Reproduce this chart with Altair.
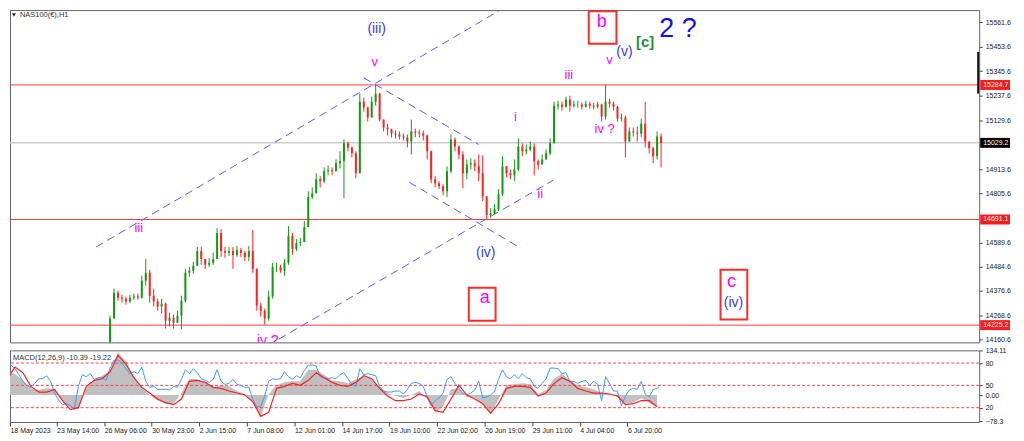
import altair as alt
import pandas as pd

FONT = "Liberation Sans"
GREEN = "#139a13"
RED = "#ff2222"
W = 974

# ---------------- candle data (H1 bars, index starting at FIRST_BAR) ----------------
FIRST_BAR = 26
FIRST_OPEN = 14135
CLOSES = [
    14254, 14368, 14346, 14342, 14329, 14346, 14351, 14346, 14421, 14456,
    14355, 14329, 14307, 14320, 14245, 14258, 14236, 14267, 14333, 14456,
    14465, 14487, 14552, 14517, 14491, 14500, 14517, 14632, 14552, 14544,
    14552, 14535, 14557, 14544, 14526, 14552, 14473, 14311, 14289, 14254,
    14351, 14482, 14482, 14465, 14500, 14618, 14561, 14588, 14592, 14658,
    14790, 14807, 14869, 14860, 14904, 14908, 14904, 14939, 14948, 15027,
    15009, 14983, 14895, 15211, 15185, 15141, 15211, 15246, 15132, 15097,
    15088, 15071, 15066, 15057, 15053, 15035, 15079, 15075, 15071, 15062,
    14992, 14869, 14851, 14838, 14816, 14904, 15044, 15013, 14978, 14895,
    14934, 14939, 14926, 14895, 14794, 14711, 14719, 14737, 14803, 14926,
    14895, 14886, 14912, 15013, 14992, 15000, 15013, 14948, 14934, 14956,
    14983, 15027, 15193, 15198, 15189, 15220, 15193, 15198, 15198, 15189,
    15202, 15193, 15189, 15198, 15145, 15211, 15202, 15189, 15136, 15141,
    15035, 15079, 15075, 15071, 15114, 15035, 15005, 14970, 15057, 15029,
]
HIGHS = [
    14267, 14386, 14377, 14359, 14351, 14359, 14364, 14364, 14443, 14517,
    14470, 14386, 14342, 14342, 14325, 14280, 14272, 14289, 14355, 14473,
    14482, 14504, 14570, 14570, 14517, 14522, 14544, 14653, 14649, 14570,
    14570, 14570, 14574, 14566, 14552, 14574, 14645, 14476, 14324, 14298,
    14377, 14500, 14500, 14491, 14517, 14662, 14632, 14605, 14610, 14684,
    14816, 14833, 14895, 14882, 14921, 14930, 14921, 14956, 14992, 15044,
    15035, 15013, 14992, 15246, 15229, 15189, 15233, 15285, 15250, 15132,
    15114, 15092, 15084, 15079, 15071, 15066, 15132, 15092, 15088, 15084,
    15066, 14996, 14882, 14860, 14847, 14926, 15066, 15053, 15018, 14992,
    14956, 14961, 14956, 14978, 14974, 14794, 14741, 14759, 14825, 14970,
    14926, 14912, 14956, 15049, 15027, 15022, 15035, 15027, 14956, 14978,
    15000, 15049, 15211, 15215, 15211, 15233, 15237, 15215, 15215, 15207,
    15215, 15211, 15207, 15211, 15202, 15285, 15224, 15211, 15193, 15158,
    15150, 15097, 15097, 15101, 15136, 15211, 15035, 15013, 15079, 15071,
]
LOWS = [
    14122, 14254, 14333, 14324, 14315, 14324, 14337, 14337, 14342, 14399,
    14324, 14307, 14289, 14276, 14210, 14219, 14210, 14236, 14206, 14324,
    14438, 14452, 14487, 14491, 14473, 14482, 14491, 14526, 14526, 14522,
    14530, 14473, 14526, 14526, 14508, 14508, 14456, 14289, 14263, 14228,
    14245, 14342, 14460, 14456, 14443, 14491, 14535, 14552, 14574, 14596,
    14658, 14781, 14807, 14833, 14851, 14886, 14886, 14912, 14917, 14785,
    14992, 14965, 14873, 14948, 15167, 15123, 15150, 15193, 15123, 15079,
    15062, 15053, 15049, 15044, 15040, 15009, 14978, 15053, 15053, 15040,
    14956, 14851, 14833, 14825, 14798, 14790, 14895, 14992, 14956, 14829,
    14869, 14912, 14904, 14860, 14772, 14691, 14697, 14715, 14728, 14794,
    14877, 14869, 14860, 14904, 14970, 14978, 14992, 14886, 14912, 14934,
    14961, 14974, 15035, 15176, 15172, 15185, 15167, 15185, 15185, 15176,
    15185, 15180, 15176, 15180, 15123, 15132, 15185, 15172, 15123, 15123,
    14965, 15053, 15057, 15035, 15053, 15009, 14983, 14939, 14956, 14921,
]

# ---------------- indicator data (bar index 0..165) ----------------
OSC_BLUE = [
    93, 90, 79, 61, 41, 29, 23, 35, 49, 49,
    58, 41, 6, -15, -29, -26, -32, -41, 26, 61,
    55, 64, 47, 52, 52, 44, 81, 105, 105, 96,
    79, 64, 70, 64, 84, 41, 23, 26, 17, 17,
    17, 15, 26, 23, 47, 76, 64, 79, 67, 49,
    44, 38, 47, 76, 41, 32, 35, 47, 32, 29,
    23, 23, -12, -35, -35, -3, 41, 49, 47, 49,
    70, 55, 47, 58, 52, 73, 90, 90, 87, 55,
    52, 49, 52, 49, 61, 67, 49, 32, 26, 79,
    61, 64, 61, 58, 26, 12, 9, 9, 12, 12,
    3, 17, 35, 38, 35, 26, -6, -32, -17, -9,
    6, 47, 55, 35, 20, 6, 0, 6, 15, 41,
    -9, -6, 0, 12, 47, 76, 55, 49, 61, 49,
    64, 52, 49, 26, 20, 35, 49, 81, 81, 79,
    64, 67, 41, 41, 35, 41, 44, 29, 41, 32,
    -17, 55, 35, 12, 12, -32, -3, 15, 20, 17,
    41, 3, -6, 17, 20, 32,
]
# every second bar (0, 2, ..., 164)
OSC_RED = [
    47, 84, 67, 26, 9, 9, 17, -17, -44, -38,
    26, 44, 49, 70, 119, 93, 52, 23, 6, -12,
    -23, -29, -12, 41, 44, 38, 23, 20, 12, 6,
    0, -20, -64, -52, 20, 26, 35, 29, 44, 67,
    52, 38, 29, 26, 38, 58, 49, 20, -3, -17,
    -17, -12, 3, -6, -47, -52, -12, 29, 0, -12,
    -26, -55, -26, 20, 26, 26, 23, -3, 6, 35,
    52, 41, 20, 12, 6, 6, 3, -3, -29, -26,
    -17, -17, -35,
]
OSC_HIST = [
    70, 64, 44, 20, 15, 20, 17, -20, -38, -41,
    23, 47, 58, 73, 128, 102, 55, 23, 0, -17,
    -26, -26, 6, 49, 47, 38, 23, 29, 26, 12,
    3, -17, -64, 3, 29, 38, 41, 41, 76, 76,
    61, 44, 41, 35, 47, 55, 49, 23, 6, -3,
    -9, 0, 12, -12, -52, -35, 17, 20, -6, -9,
    -26, -58, -12, 29, 32, 35, 32, 3, 15, 49,
    64, 44, 29, 23, 17, 6, 3, -6, -26, -23,
    -9, -23, -35,
]
OSC_LEVELS = [96, 29, -38]
OSC_LEVEL_LABELS = ["80", "50", "20"]
OSC_AXIS = [134.11, 96, 29, 0, -38, -78.3]

# ---------------- levels, axes, annotations ----------------
LEVELS_RED = [15284.7, 14691.1, 14225.2]
LEVEL_CURRENT = 15029.2
PRICE_TICKS = [15561.6, 15453.6, 15345.6, 15237.6, 15129.6, 14913.6,
               14805.6, 14589.6, 14484.6, 14376.6, 14268.6, 14160.6]
DATE_TICKS = [0.75, 12.5, 24.5, 36.5, 48.5, 60.5, 72.5, 84.5, 96.5,
              108.5, 120.5, 132.5, 144.5, 156.5]
DATE_LABELS = ["18 May 2023", "23 May 14:00", "26 May 06:00", "30 May 23:00",
               "2 Jun 15:00", "7 Jun 08:00", "12 Jun 01:00", "14 Jun 17:00",
               "19 Jun 10:00", "22 Jun 02:00", "26 Jun 19:00", "29 Jun 11:00",
               "4 Jul 04:00", "6 Jul 20:00"]

# channel lines: name, bar0, price0, bar1, price1
CH_NAMES = ["up_top", "up_bottom", "down_top", "down_bottom"]
CH_B0 = [22.5, 65.75, 90, 101.5]
CH_P0 = [14570, 14135, 15316, 14855]
CH_B1 = [130, 137.75, 119, 129.5]
CH_P1 = [15672, 14864, 15022, 14566]

MAG_TEXT = ["iii", "v", "i", "ii", "iii", "iv ?", "v"]
MAG_BAR = [33.25, 92.75, 128.25, 134.5, 141.75, 150.75, 152]
MAG_PRICE = [14653, 15387, 15145, 14803, 15330, 15092, 15395]
MAG_CUT_TEXT = ["iv ?"]
MAG_CUT_BAR = [65.75]
MAG_CUT_PRICE = [14188]
BLUE_TEXT = ["(iii)", "(iv)", "(v)", "(iv)"]
BLUE_BAR = [93.25, 120.75, 155.75, 183.25]
BLUE_PRICE = [15531, 14544, 15431, 14324]
BOX_TEXT = ["a", "b", "c"]
BOX_TEXT_BAR = [120.5, 150, 182.75]
BOX_TEXT_PRICE = [14346, 15560, 14416]
BOX_B0 = [116.5, 146.75, 180]
BOX_B1 = [123.25, 153.75, 186.75]
BOX_P0 = [14245, 15466, 14250]
BOX_P1 = [14390, 15610, 14469]
GREEN_TEXT = ["[c]"]
GREEN_BAR = [161]
GREEN_PRICE = [15474]
BIG_TEXT = ["2 ?"]
BIG_BAR = [169.25]
BIG_PRICE = [15531]

# ---------------- frames ----------------
n = len(CLOSES)
opens = [FIRST_OPEN] + CLOSES[:-1]
candles = pd.DataFrame({
    "bar": list(range(FIRST_BAR, FIRST_BAR + n)),
    "open": opens,
    "close": CLOSES,
    "high": [max(h, o, c) for h, o, c in zip(HIGHS, opens, CLOSES)],
    "low": [min(l, o, c) for l, o, c in zip(LOWS, opens, CLOSES)],
    "dir": ["up" if c >= o else "down" for o, c in zip(opens, CLOSES)],
})

xs = alt.Scale(domain=[0.75, 245.25], nice=False, zero=False)
ys = alt.Scale(domain=[14149, 15615], nice=False, zero=False)
main_y_axis = alt.Axis(orient="right", values=PRICE_TICKS, format=".1f", tickSize=3,
                       labelPadding=3, labelOverlap=False, grid=False, domain=False,
                       title=None)


def X(field="bar"):
    return alt.X(f"{field}:Q", scale=xs, axis=None)


def Y(field):
    return alt.Y(f"{field}:Q", scale=ys, axis=main_y_axis)


def text_layer(texts, bars, prices, color, size, weight="normal", clip=False, baseline="middle"):
    df = pd.DataFrame({"t": texts, "bar": bars, "price": prices})
    return alt.Chart(df).mark_text(color=color, fontSize=size, font=FONT, fontWeight=weight,
                                   baseline=baseline, align="center", clip=clip).encode(
        x=X(), y=Y("price"), text="t:N")


current = alt.Chart(pd.DataFrame({"price": [LEVEL_CURRENT]})).mark_rule(
    color="#cdcdcd", strokeWidth=1.5).encode(y=Y("price"))
red_levels = alt.Chart(pd.DataFrame({"price": LEVELS_RED})).mark_rule(
    color="#ff3b3b", strokeWidth=1).encode(y=Y("price"))

rows = []
for nm, b0, p0, b1, p1 in zip(CH_NAMES, CH_B0, CH_P0, CH_B1, CH_P1):
    rows.append({"line": nm, "pt": 0, "bar": b0, "price": p0})
    rows.append({"line": nm, "pt": 1, "bar": b1, "price": p1})
channels = alt.Chart(pd.DataFrame(rows)).mark_line(
    color="#5c5cf2", strokeDash=[8, 5], strokeWidth=1, clip=True).encode(
    x=X(), y=Y("price"), detail="line:N", order="pt:O")

col = alt.Color("dir:N", scale=alt.Scale(domain=["up", "down"], range=[GREEN, RED]), legend=None)
wicks = alt.Chart(candles).mark_rule(strokeWidth=1, clip=True).encode(
    x=X(), y=Y("low"), y2="high", color=col)
bodies = alt.Chart(candles).mark_rule(strokeWidth=2, clip=True).encode(
    x=X(), y=Y("open"), y2="close", color=col)

boxes = alt.Chart(pd.DataFrame({"b0": BOX_B0, "b1": BOX_B1, "p0": BOX_P0, "p1": BOX_P1})).mark_rect(
    fill="white", fillOpacity=0, stroke="#ff2a2a", strokeWidth=2).encode(
    x=X("b0"), x2="b1", y=Y("p0"), y2="p1")

tag_df = pd.DataFrame({"price": LEVELS_RED, "label": [f"{p:.1f}" for p in LEVELS_RED]})
cur_df = pd.DataFrame({"price": [LEVEL_CURRENT], "label": [f"{LEVEL_CURRENT:.1f}"]})
tags_red = alt.Chart(tag_df).mark_rule(color="#ff1a1a", strokeWidth=10).encode(
    x=alt.value(W + 1), x2=alt.value(W + 31), y=Y("price"))
tags_cur = alt.Chart(cur_df).mark_rule(color="#000000", strokeWidth=10).encode(
    x=alt.value(W + 1), x2=alt.value(W + 31), y=Y("price"))
tag_text = alt.Chart(pd.concat([tag_df, cur_df])).mark_text(
    color="white", align="left", baseline="middle", fontSize=7, font=FONT).encode(
    x=alt.value(W + 4), y=Y("price"), text="label:N")

spread_bar = alt.Chart(pd.DataFrame({"k": [0]})).mark_rule(color="#111111", strokeWidth=2).encode(
    x=alt.value(W - 1), y=alt.value(42), y2=alt.value(84))
title_tri = alt.Chart(pd.DataFrame({"k": [0]})).mark_point(
    shape="triangle-down", filled=True, size=16, color="#222222", opacity=1).encode(
    x=alt.value(4), y=alt.value(5))
title_txt = alt.Chart(pd.DataFrame({"t": ["NAS100(€),H1"]})).mark_text(
    align="left", baseline="middle", fontSize=7.5, font=FONT, color="#333333").encode(
    x=alt.value(10), y=alt.value(5), text="t:N")

main = alt.layer(
    current, red_levels, channels, wicks, bodies, boxes,
    text_layer(MAG_TEXT, MAG_BAR, MAG_PRICE, "#ff00ff", 13),
    text_layer(MAG_CUT_TEXT, MAG_CUT_BAR, MAG_CUT_PRICE, "#ff00ff", 14, clip=True, baseline="top"),
    text_layer(BLUE_TEXT, BLUE_BAR, BLUE_PRICE, "#3a3aee", 14),
    text_layer(BOX_TEXT, BOX_TEXT_BAR, BOX_TEXT_PRICE, "#ff00ff", 18),
    text_layer(GREEN_TEXT, GREEN_BAR, GREEN_PRICE, "#2f8f2f", 15, weight="bold"),
    text_layer(BIG_TEXT, BIG_BAR, BIG_PRICE, "#1010ee", 27),
    tags_red, tags_cur, tag_text, spread_bar, title_tri, title_txt,
).properties(width=W, height=334)

# ---------------- oscillator panel ----------------
date_expr = f"{DATE_LABELS}[round((datum.value - 0.5) / 12)]"
mx = alt.X("bar:Q", scale=xs, axis=alt.Axis(
    values=DATE_TICKS, labelExpr=date_expr, tickSize=4, labelPadding=1, labelAlign="left",
    labelOverlap=False, labelFlush=False, labelBound=False, domain=False, grid=False, title=None))
ms = alt.Scale(domain=[-81, 134.11], nice=False, zero=False)
level_expr = " : ".join(
    [f"datum.value == {v} ? '{l}'" for v, l in zip(OSC_LEVELS, OSC_LEVEL_LABELS)]
    + ["datum.value == 0 ? '0.00'", "format(datum.value, '.2~f')"])
my_axis = alt.Axis(orient="right", values=OSC_AXIS, labelExpr=level_expr, tickSize=3,
                   labelPadding=3, labelFlush=False, grid=False, domain=False, title=None,
                   labelOverlap=False, labelBound=False)


def MY(field):
    return alt.Y(f"{field}:Q", scale=ms, axis=my_axis)


blue_df = pd.DataFrame({"bar": list(range(len(OSC_BLUE))), "v": OSC_BLUE})
red_df = pd.DataFrame({"bar": list(range(0, 2 * len(OSC_RED), 2)), "v": OSC_RED})
hist_df = pd.DataFrame({"bar": list(range(0, 2 * len(OSC_HIST), 2)), "v": OSC_HIST,
                        "zero": [0] * len(OSC_HIST)})

hist = alt.Chart(hist_df).mark_area(color="#c0c0c0", clip=True).encode(
    x=mx, y=MY("v"), y2="zero")
lvl = alt.Chart(pd.DataFrame({"v": OSC_LEVELS})).mark_rule(
    color="#ff4545", strokeDash=[3, 2], strokeWidth=1).encode(y=MY("v"))
blue_line = alt.Chart(blue_df).mark_line(color="#3d9bff", strokeWidth=1, clip=True).encode(
    x=mx, y=MY("v"))
red_line = alt.Chart(red_df).mark_line(color="#ff2020", strokeWidth=1.2, clip=True).encode(
    x=mx, y=MY("v"))
osc_title = alt.Chart(pd.DataFrame({"t": ["MACD(12,26,9) -10.39 -19.22"]})).mark_text(
    align="left", baseline="middle", fontSize=7.5, font=FONT, color="#333333").encode(
    x=alt.value(3), y=alt.value(8), text="t:N")

osc = alt.layer(hist, lvl, blue_line, red_line, osc_title).properties(width=W, height=72)

chart = alt.vconcat(main, osc, spacing=2).properties(
    padding=0, background="white"
).configure_view(stroke="#666666", strokeWidth=1).configure_axis(
    labelFont=FONT, labelFontSize=7, labelColor="#222222", tickColor="#444444"
)

chart.save("out.html", embed_options={"renderer": "svg", "actions": False})
